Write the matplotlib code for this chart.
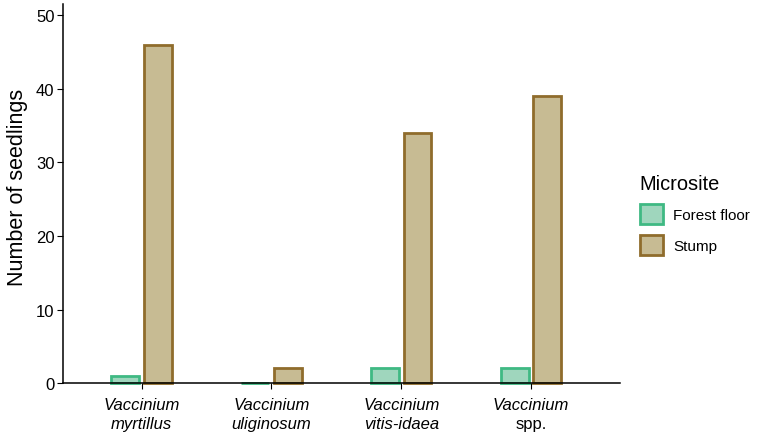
import numpy as np
import matplotlib
matplotlib.use("Agg")
import matplotlib.pyplot as plt
from matplotlib.patches import Patch

plt.rcParams['font.family'] = ['Liberation Sans', 'DejaVu Sans']

# seedling counts per species and microsite
genus = ["Vaccinium", "Vaccinium", "Vaccinium", "Vaccinium"]
epithet = ["myrtillus", "uliginosum", "vitis-idaea", "spp."]
forest_floor = [1, 0, 2, 2]
stump = [46, 2, 34, 39]

green_fill, green_edge = "#9fd6bd", "#3fb983"
brown_fill, brown_edge = "#c7bb93", "#8f6c2c"

fig = plt.figure(figsize=(7.58, 4.35), dpi=100)
ax = fig.add_axes([0.083, 0.117, 0.735, 0.871])

x = np.arange(len(genus))
ax.bar(x - 0.125, forest_floor, width=0.215, color=green_fill, edgecolor=green_edge,
       linewidth=2, clip_on=False)
ax.bar(x + 0.125, stump, width=0.215, color=brown_fill, edgecolor=brown_edge,
       linewidth=2, clip_on=False)

ax.set_xlim(-0.606, 3.685)
ax.set_ylim(0, 51.5)
ax.set_yticks([0, 10, 20, 30, 40, 50])
ax.set_xticks(x)
ax.set_xticklabels([""] * len(x))
ax.tick_params(axis="y", labelsize=12, length=4, color="black", pad=2)
ax.tick_params(axis="x", length=4, color="black")
for s in ["top", "right"]:
    ax.spines[s].set_visible(False)
ax.spines["left"].set_linewidth(1.1)
ax.spines["bottom"].set_linewidth(1.1)
ax.set_ylabel("Number of seedlings", fontsize=15.5)
ax.yaxis.set_label_coords(-0.062, 0.52)

# species names: genus italic, "spp." upright
trans = ax.get_xaxis_transform()
for xi, g, e in zip(x, genus, epithet):
    ax.annotate(g, (xi, 0), xycoords=trans, xytext=(0, -10), textcoords="offset points",
                ha="center", va="top", fontsize=12, fontstyle="italic")
    ax.annotate(e, (xi, 0), xycoords=trans, xytext=(0, -24), textcoords="offset points",
                ha="center", va="top", fontsize=12,
                fontstyle="normal" if e == "spp." else "italic")

handles = [Patch(facecolor=green_fill, edgecolor=green_edge, linewidth=2, label="Forest floor"),
           Patch(facecolor=brown_fill, edgecolor=brown_edge, linewidth=2, label="Stump")]
leg = fig.legend(handles=handles, title="Microsite", loc="upper left",
                 bbox_to_anchor=(0.826, 0.63), frameon=False, fontsize=11,
                 title_fontsize=14.4, handlelength=1.5, handleheight=1.6,
                 handletextpad=0.7, labelspacing=0.75)
leg._legend_box.align = "left"

fig.savefig("out.png", dpi=100)
